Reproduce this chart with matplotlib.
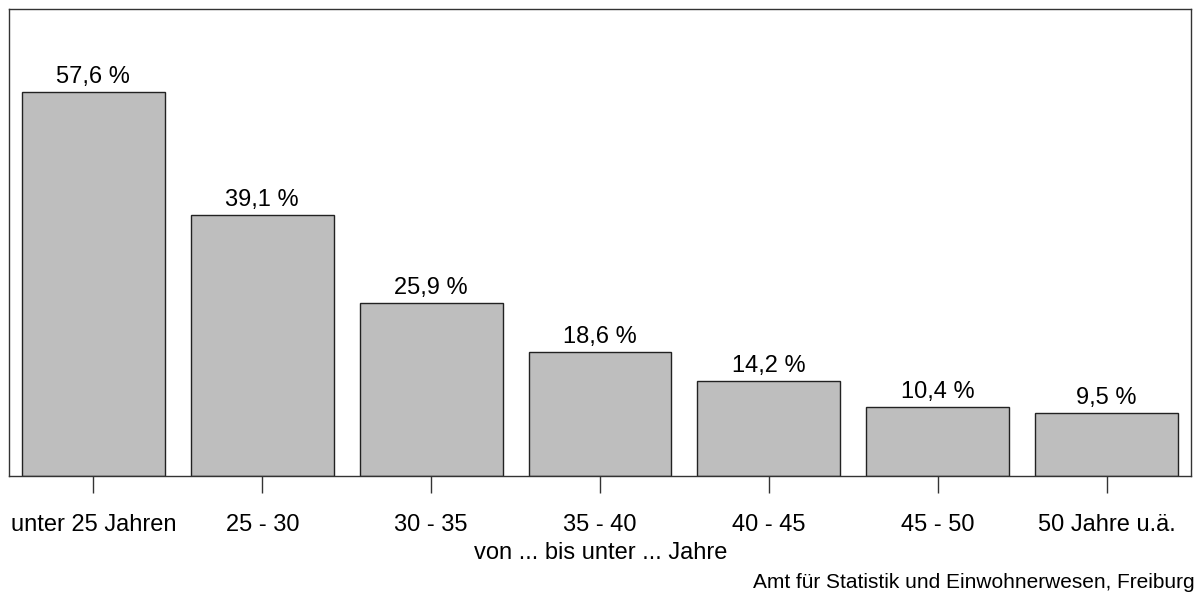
import matplotlib
matplotlib.use("Agg")
import matplotlib.pyplot as plt

plt.rcParams['font.family'] = ['Liberation Sans', 'DejaVu Sans']

categories = ["unter 25 Jahren", "25 - 30", "30 - 35", "35 - 40", "40 - 45", "45 - 50", "50 Jahre u.ä."]
values = [57.6, 39.1, 25.9, 18.6, 14.2, 10.4, 9.5]
value_labels = ["57,6 %", "39,1 %", "25,9 %", "18,6 %", "14,2 %", "10,4 %", "9,5 %"]

fig = plt.figure(figsize=(12.01, 5.96), dpi=100)
ax = fig.add_axes([9/1201, 120/596, 1182/1201, 467/596])

x = range(len(categories))
ax.bar(x, values, width=0.846, color="#bebebe", edgecolor="#222222", linewidth=1)

# Prozentwerte ueber den Balken
for xi, v, lab in zip(x, values, value_labels):
    ax.text(xi, v + 0.6, lab, ha="center", va="bottom", fontsize=17)

ax.set_xlim(-0.5, 6.5)
ax.set_ylim(0, 70)
ax.set_yticks([])
ax.set_xticks(list(x))
ax.set_xticklabels(categories, fontsize=17)
ax.tick_params(axis="x", length=12.5, width=1, pad=15, color="#333333")
for s in ax.spines.values():
    s.set_linewidth(1)
    s.set_color("#333333")

fig.text(0.5, (596-553)/596, "von ... bis unter ... Jahre", ha="center", va="center", fontsize=17)
fig.text(1195/1201, (596-583)/596, "Amt für Statistik und Einwohnerwesen, Freiburg",
         ha="right", va="center", fontsize=15)

fig.savefig("out.png", dpi=100)
